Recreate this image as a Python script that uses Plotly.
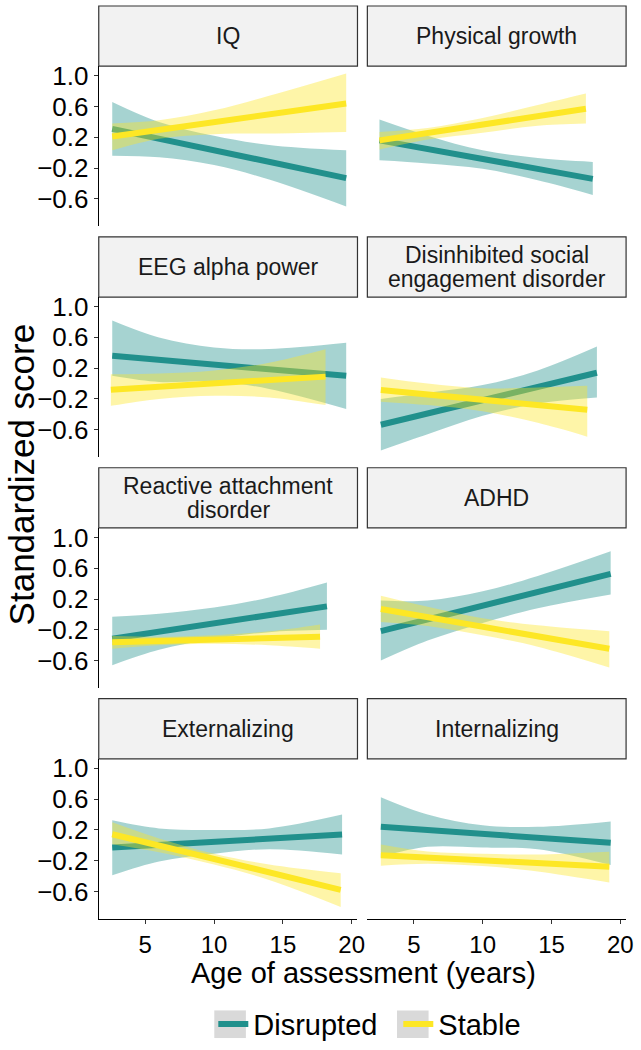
import plotly.graph_objects as go

# ---------------- data ----------------
FACETS = ["IQ", "Physical growth", "EEG alpha power",
          "Disinhibited social\nengagement disorder",
          "Reactive attachment\ndisorder", "ADHD",
          "Externalizing", "Internalizing"]
GROUPS = ["Disrupted", "Stable"]
Y_TICKS = [-0.6, -0.2, 0.2, 0.6, 1.0]
X_TICKS = [5, 10, 15, 20]

# Disrupted: ages at which the CI band was read, lower / upper CI, fitted line (start, end)
DIS_AGE = [[2.6, 6, 10, 14, 19.6], [2.5, 6, 10, 14, 18.0], [2.6, 6, 10, 14, 19.6],
           [2.6, 6, 10, 14, 18.3], [2.6, 6, 10, 14, 18.2], [2.6, 6, 10, 14, 19.3],
           [2.6, 6, 10, 14, 19.3], [2.6, 6, 10, 14, 19.3]]
DIS_LO = [[-0.04, -0.06, -0.16, -0.35, -0.70],
          [-0.10, -0.14, -0.21, -0.36, -0.55],
          [0.10, 0.02, 0.03, -0.07, -0.33],
          [-0.87, -0.66, -0.42, -0.26, -0.18],
          [-0.66, -0.46, -0.32, -0.23, -0.20],
          [-0.60, -0.34, -0.11, 0.08, 0.26],
          [-0.39, -0.21, -0.11, -0.05, -0.12],
          [-0.15, -0.02, -0.03, -0.05, -0.256]]
DIS_HI = [[0.66, 0.40, 0.22, 0.10, 0.03],
          [0.43, 0.22, 0.03, -0.07, -0.12],
          [0.82, 0.60, 0.47, 0.45, 0.53],
          [-0.20, -0.12, -0.02, 0.17, 0.48],
          [-0.03, 0.01, 0.09, 0.22, 0.415],
          [0.18, 0.18, 0.30, 0.50, 0.82],
          [0.325, 0.22, 0.20, 0.22, 0.40],
          [0.626, 0.40, 0.26, 0.24, 0.31]]
DIS_FIT = [[0.31, -0.33], [0.16, -0.34], [0.36, 0.10], [-0.535, 0.14],
           [-0.316, 0.105], [-0.217, 0.527], [-0.028, 0.14], [0.24, 0.032]]

# Stable
STA_AGE = [[2.6, 6, 10, 14, 19.6], [2.5, 6, 10, 14, 17.5], [2.5, 6, 10, 14, 18.1],
           [2.6, 6, 10, 14, 17.6], [2.6, 6, 10, 14, 17.7], [2.6, 6, 10, 14, 19.2],
           [2.6, 6, 10, 14, 19.2], [2.6, 6, 10, 14, 19.2]]
STA_LO = [[0.03, 0.18, 0.24, 0.25, 0.27],
          [0.04, 0.17, 0.26, 0.35, 0.38],
          [-0.29, -0.20, -0.16, -0.18, -0.28],
          [-0.235, -0.28, -0.36, -0.51, -0.69],
          [-0.445, -0.40, -0.38, -0.40, -0.445],
          [-0.097, -0.15, -0.27, -0.42, -0.69],
          [0.015, -0.09, -0.25, -0.45, -0.80],
          [-0.264, -0.24, -0.27, -0.34, -0.484]]
STA_HI = [[0.38, 0.42, 0.55, 0.74, 1.03],
          [0.27, 0.32, 0.45, 0.62, 0.77],
          [0.12, 0.13, 0.17, 0.27, 0.445],
          [0.08, 0.00, -0.06, -0.05, -0.03],
          [-0.28, -0.29, -0.27, -0.22, -0.13],
          [0.243, 0.10, -0.05, -0.14, -0.217],
          [0.30, 0.09, -0.11, -0.25, -0.364],
          [0.011, -0.08, -0.11, -0.12, -0.084]]
STA_FIT = [[0.21, 0.64], [0.16, 0.57], [-0.08, 0.09], [-0.085, -0.34],
           [-0.36, -0.29], [0.07, -0.445], [0.144, -0.578], [-0.13, -0.277]]

# ---------------- styling ----------------
W, H = 641, 1050
FONT = "Liberation Sans, Arial, Helvetica, sans-serif"
LINE_COL = {"Disrupted": "#21908C", "Stable": "#FDE725"}
BAND_COL = {"Disrupted": "rgba(33,144,140,0.4)", "Stable": "rgba(253,231,37,0.4)"}

COL_X = [(100, 362), (372, 634)]          # panel pixel extents (x)
ROW_PITCH, STRIP_TOP, STRIP_BOT, PANEL_BOT = 234, 1, 62, 224
X_RANGE = [1.62, 20.42]
Y_RANGE = [-0.953, 1.124]
LEGEND_Y = 1033
LEGEND_LEFT = 216
LEGEND_ENTRY_W = 140
LEGEND_KEYS = [(217, 249), (402, 434)]   # grey key backgrounds (pixels)


def px_x(p):
    return p / W


def px_y(p):
    return 1 - p / H


fig = go.Figure()
layout = dict(width=W, height=H, margin=dict(l=0, r=0, t=0, b=0),
              plot_bgcolor="white", paper_bgcolor="white",
              font=dict(family=FONT, color="black"), showlegend=True)
shapes, annotations = [], []

for i, facet in enumerate(FACETS):
    r, c = divmod(i, 2)
    ax = "" if i == 0 else str(i + 1)
    xa, ya = "x" + ax, "y" + ax
    x0, x1 = COL_X[c]
    top = r * ROW_PITCH
    dom_x = [px_x(x0), px_x(x1)]
    dom_y = [px_y(top + PANEL_BOT), px_y(top + STRIP_BOT)]
    bottom_row = r == 3
    left_col = c == 0
    layout["xaxis" + ax] = dict(
        domain=dom_x, range=X_RANGE, anchor=ya, showgrid=False, zeroline=False,
        showline=bottom_row, linecolor="black", linewidth=1.1,
        ticks="outside" if bottom_row else "", ticklen=4, tickcolor="#333333",
        tickvals=X_TICKS, showticklabels=bottom_row,
        tickfont=dict(size=24, color="black", family=FONT))
    layout["yaxis" + ax] = dict(
        domain=dom_y, range=Y_RANGE, anchor=xa, showgrid=False, zeroline=False,
        showline=left_col, linecolor="black", linewidth=1.1,
        ticks="outside" if left_col else "", ticklen=4, tickcolor="#333333",
        tickvals=Y_TICKS, tickformat=".1f", showticklabels=left_col,
        tickfont=dict(size=26, color="black", family=FONT))

    for g, age, lo, hi, fit in (("Disrupted", DIS_AGE[i], DIS_LO[i], DIS_HI[i], DIS_FIT[i]),
                                ("Stable", STA_AGE[i], STA_LO[i], STA_HI[i], STA_FIT[i])):
        fig.add_trace(go.Scatter(
            x=age, y=lo, mode="lines", line=dict(width=0, shape="spline", smoothing=1),
            hoverinfo="skip", showlegend=False, xaxis=xa, yaxis=ya))
        fig.add_trace(go.Scatter(
            x=age, y=hi, mode="lines", fill="tonexty", fillcolor=BAND_COL[g],
            line=dict(width=0, shape="spline", smoothing=1),
            hoverinfo="skip", showlegend=False, xaxis=xa, yaxis=ya))
        fig.add_trace(go.Scatter(
            x=[age[0], age[-1]], y=fit, mode="lines",
            line=dict(color=LINE_COL[g], width=6), name=g, legendgroup=g,
            showlegend=(i == 0), xaxis=xa, yaxis=ya))

    # facet strip
    shapes.append(dict(type="rect", xref="paper", yref="paper",
                       x0=px_x(x0), x1=px_x(x1),
                       y0=px_y(top + STRIP_BOT), y1=px_y(top + STRIP_TOP),
                       fillcolor="#F2F2F2", line=dict(color="#333333", width=1.2),
                       layer="below"))
    lines = facet.split("\n")
    mid = top + (STRIP_TOP + STRIP_BOT) / 2
    offs = [0] if len(lines) == 1 else [-12.5, 12.5]
    for txt, off in zip(lines, offs):
        annotations.append(dict(text=txt, xref="paper", yref="paper",
                                x=px_x((x0 + x1) / 2), y=px_y(mid + off),
                                xanchor="center", yanchor="middle", showarrow=False,
                                font=dict(size=23, color="#1A1A1A", family=FONT)))

# legend key backgrounds
for kx0, kx1 in LEGEND_KEYS:
    shapes.append(dict(type="rect", xref="paper", yref="paper",
                       x0=px_x(kx0), x1=px_x(kx1),
                       y0=px_y(LEGEND_Y + 14), y1=px_y(LEGEND_Y - 14),
                       fillcolor="#D9D9D9", line=dict(width=0), layer="below"))

annotations.append(dict(text="Standardized score", xref="paper", yref="paper",
                        x=px_x(22), y=px_y(476), textangle=-90, showarrow=False,
                        xanchor="center", yanchor="middle",
                        font=dict(size=35, color="black", family=FONT)))
annotations.append(dict(text="Age of assessment (years)", xref="paper", yref="paper",
                        x=px_x(368), y=px_y(981), showarrow=False,
                        xanchor="center", yanchor="middle",
                        font=dict(size=29, color="black", family=FONT)))

layout["shapes"] = shapes
layout["annotations"] = annotations
layout["legend"] = dict(orientation="h", x=px_x(LEGEND_LEFT), xanchor="left",
                        y=px_y(LEGEND_Y), yanchor="middle", bgcolor="rgba(0,0,0,0)",
                        font=dict(size=29, color="black", family=FONT),
                        itemwidth=30, tracegroupgap=0,
                        entrywidth=LEGEND_ENTRY_W, entrywidthmode="pixels")
fig.update_layout(**layout)
fig.write_html("out.html", config={"displayModeBar": False},
               post_script="document.body.style.margin='0px';")
